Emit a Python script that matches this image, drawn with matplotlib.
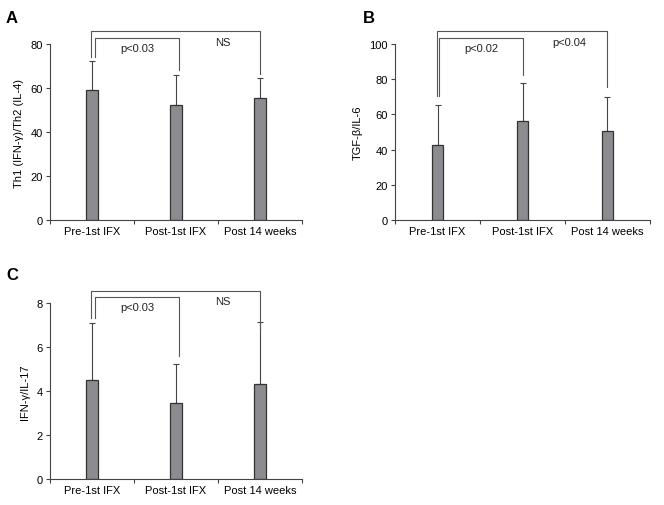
import matplotlib.pyplot as plt

plt.rcParams['font.family'] = ['Liberation Sans', 'DejaVu Sans']

groups = ["Pre-1st IFX", "Post-1st IFX", "Post 14 weeks"]

# panel A: Th1/Th2
th_mean = [59.0, 52.5, 55.5]
th_err = [13.5, 13.5, 9.0]
# panel B: TGF-b/IL-6
tgf_mean = [42.5, 56.0, 50.5]
tgf_err = [23.0, 22.0, 19.5]
# panel C: IFN-g/IL-17
ifn_mean = [4.5, 3.45, 4.3]
ifn_err = [2.6, 1.8, 2.85]

# brackets: (x_left, x_right, y_top, y_left_end, y_right_end, label, text_x, text_y)
th_brackets = [(0.04, 1.04, 82.6, 74, 68.3, "p<0.03", 0.54, 78),
               (-0.01, 2.0, 85.9, 74, 66.4, "NS", 1.56, 81)]
tgf_brackets = [(0.02, 1.01, 103.2, 70.5, 82.4, "p<0.02", 0.52, 97.5),
                (-0.01, 2.0, 107.2, 70.5, 75.5, "p<0.04", 1.55, 101)]
ifn_brackets = [(0.04, 1.04, 8.26, 7.3, 5.58, "p<0.03", 0.54, 7.8),
                (-0.01, 2.0, 8.56, 7.3, 6.67, "NS", 1.56, 8.1)]

panels = [
    ("A", [0.0753, 0.5632, 0.3795, 0.3478], th_mean, th_err, th_brackets,
     "Th1 (IFN-γ)/Th2 (IL-4)", 80, 20, (0.009, 0.964)),
    ("B", [0.5949, 0.5632, 0.3840, 0.3478], tgf_mean, tgf_err, tgf_brackets,
     "TGF-β/IL-6", 100, 20, (0.547, 0.964)),
    ("C", [0.0753, 0.0514, 0.3795, 0.3478], ifn_mean, ifn_err, ifn_brackets,
     "IFN-γ/IL-17", 8, 2, (0.009, 0.455)),
]

fig = plt.figure(figsize=(6.64, 5.06), dpi=100)

for letter, rect, mean, err, brackets, ylab, ymax, step, lpos in panels:
    ax = fig.add_axes(rect)
    x = range(len(groups))
    ax.bar(x, mean, width=0.14, color='#8c8c90', edgecolor='#333333', linewidth=0.9, zorder=2)
    ax.errorbar(x, mean, yerr=[[0] * len(err), err], fmt='none', ecolor='#444444',
                elinewidth=0.8, capsize=2.5, capthick=0.8, zorder=1)
    for x1, x2, yt, y1, y2, lab, tx, ty in brackets:
        ax.plot([x1, x1, x2, x2], [y1, yt, yt, y2], color='#555555', lw=0.8, clip_on=False)
        ax.text(tx, ty, lab, ha='center', va='center', fontsize=8, color='#222222')
    ax.set_xlim(-0.5, 2.5)
    ax.set_ylim(0, ymax)
    ax.set_yticks(range(0, ymax + 1, step))
    ax.set_xticks([-0.5, 0.5, 1.5, 2.5])
    ax.set_xticklabels([])
    ax.set_xticks(list(x), groups, minor=True)
    ax.tick_params(axis='x', which='minor', length=0, labelsize=8, pad=4)
    ax.tick_params(axis='x', which='major', length=3, width=0.8, color='#444444')
    ax.tick_params(axis='y', length=3, width=0.8, color='#444444', labelsize=8, pad=2)
    for s in ['top', 'right']:
        ax.spines[s].set_visible(False)
    for s in ['left', 'bottom']:
        ax.spines[s].set_color('#444444')
        ax.spines[s].set_linewidth(0.8)
    ax.set_ylabel(ylab, fontsize=8, labelpad=5)
    fig.text(lpos[0], lpos[1], letter, fontsize=12, fontweight='bold', ha='left', va='center')

fig.savefig('out.png', dpi=100)
